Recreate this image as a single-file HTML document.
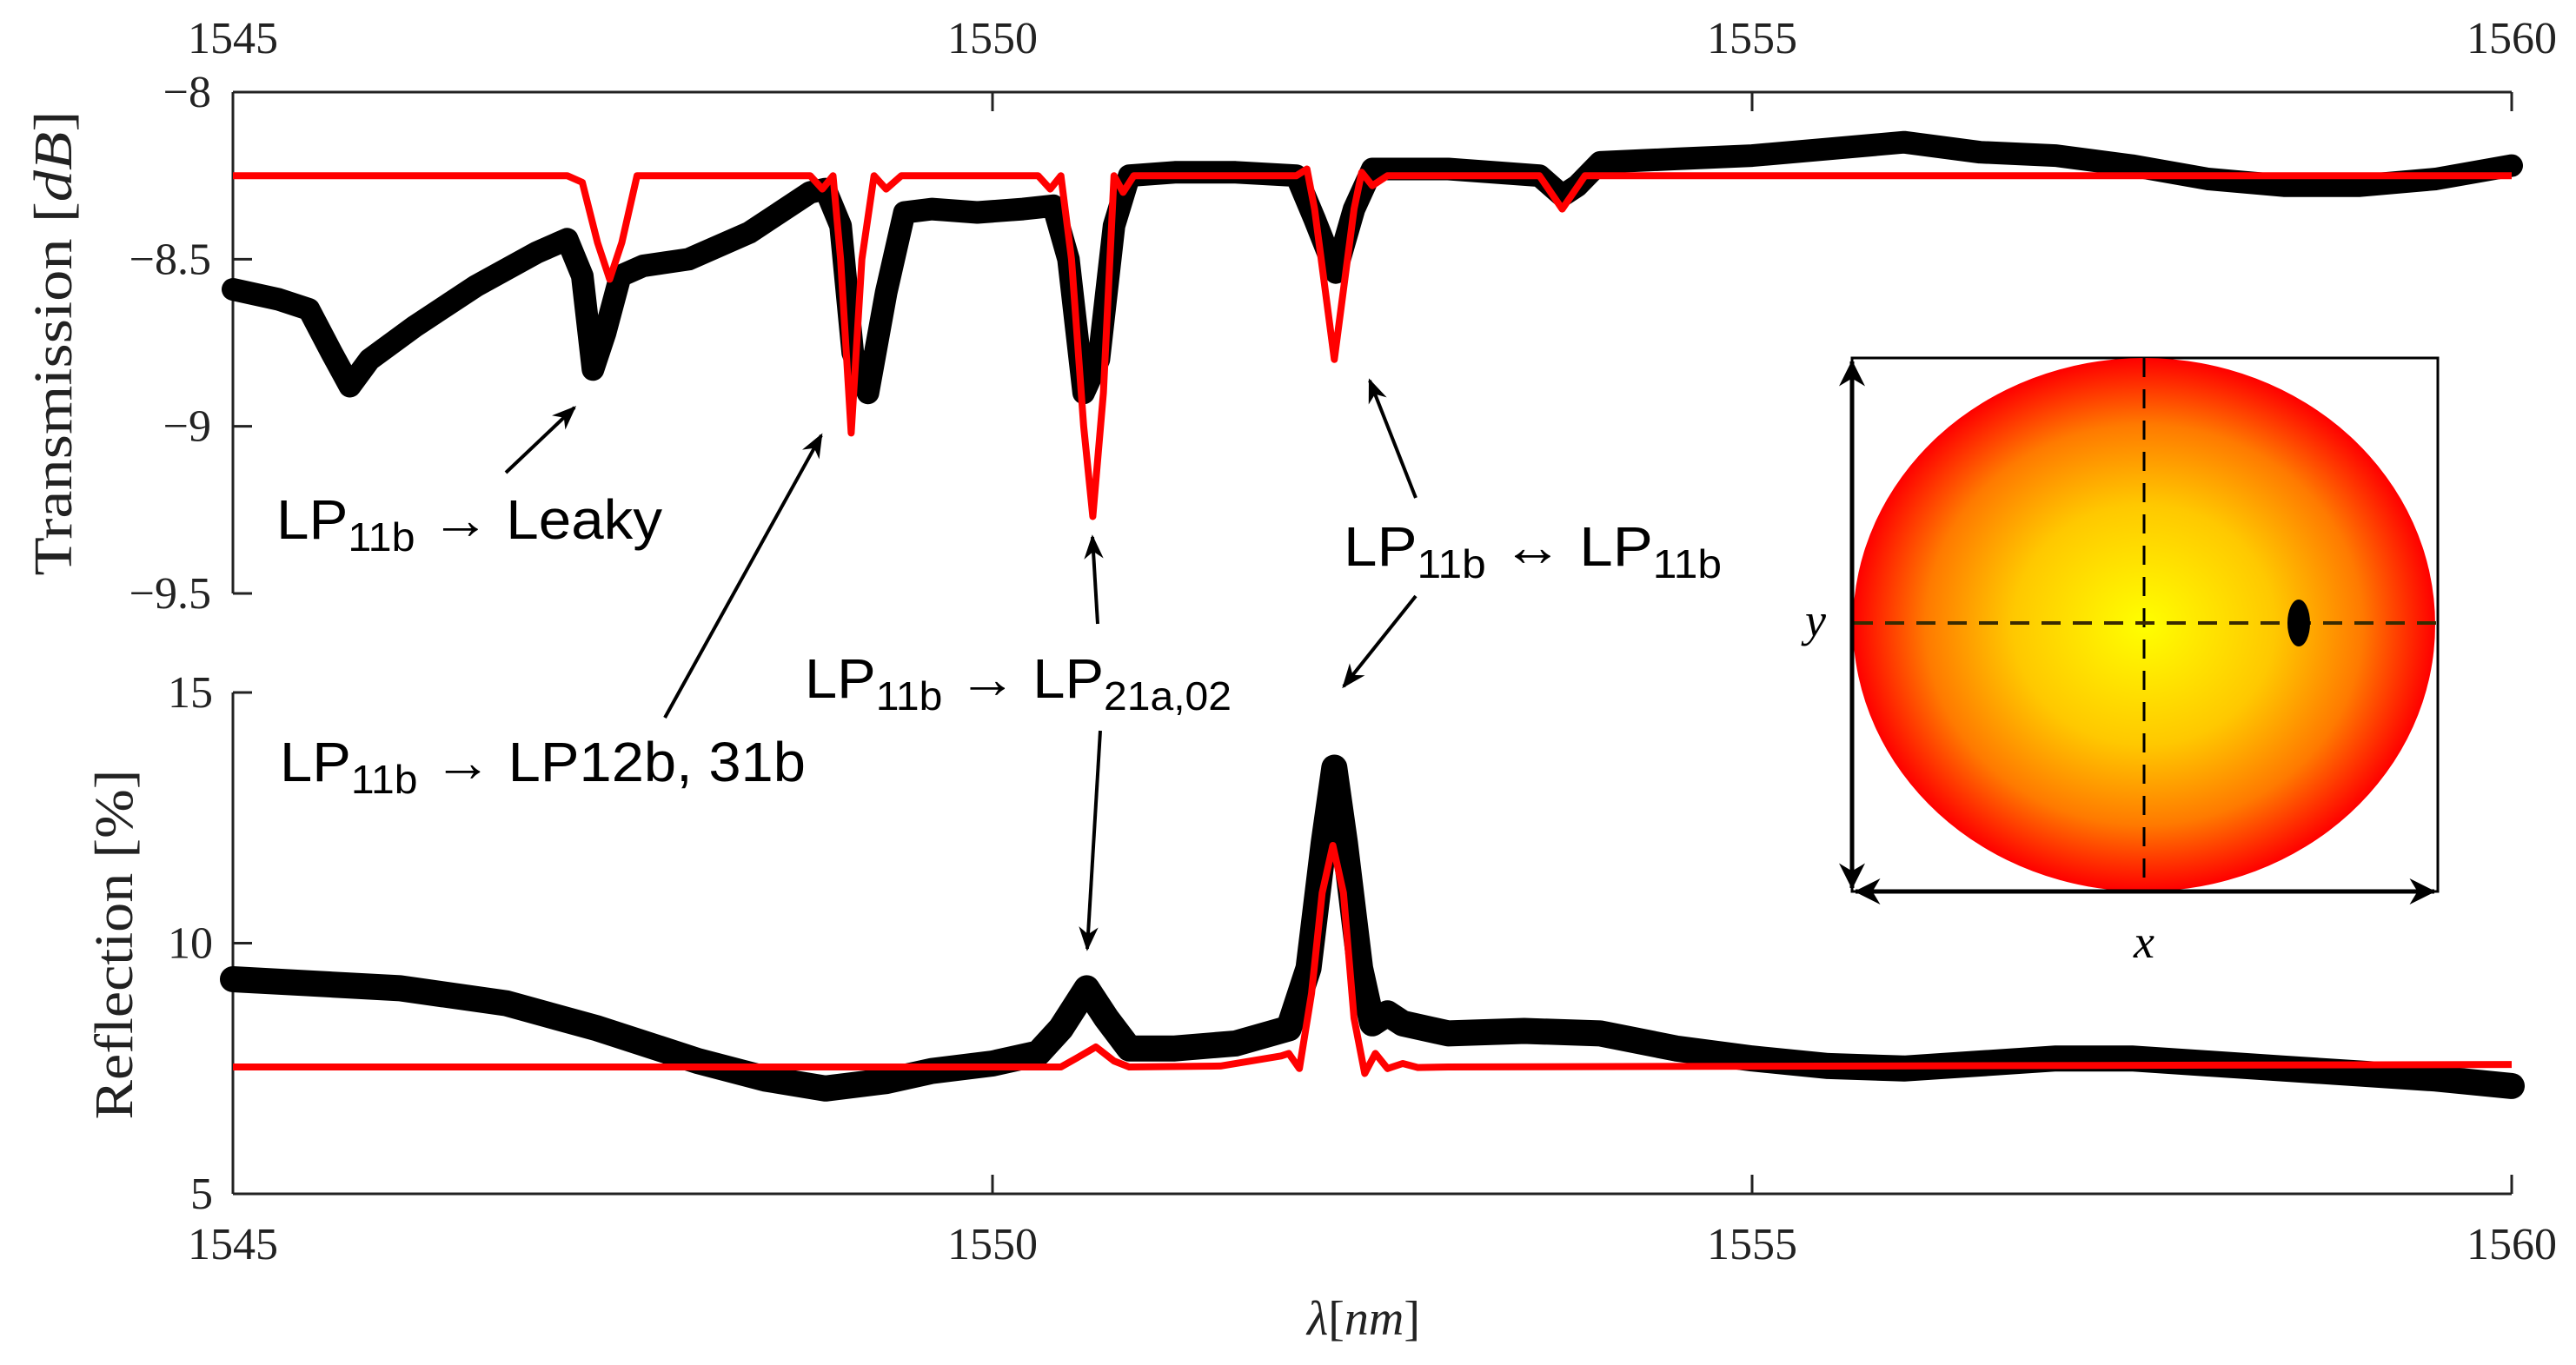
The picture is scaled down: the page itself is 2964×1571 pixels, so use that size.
<!DOCTYPE html>
<html><head><meta charset="utf-8"><style>
html,body{margin:0;padding:0;background:#fff;}
svg{display:block;}
.tick{font-family:"Liberation Serif",serif;font-size:52px;fill:#222;}
.ann{font-family:"Liberation Sans",sans-serif;font-size:64px;fill:#000;}
</style></head><body>
<svg id="chart" width="2964" height="1571" viewBox="0 0 2964 1571" xmlns="http://www.w3.org/2000/svg">
<defs>
<radialGradient id="fiberGrad" cx="0.5" cy="0.5" r="0.5">
<stop offset="0" stop-color="#ffff00"/><stop offset="0.45" stop-color="#ffc800"/><stop offset="0.75" stop-color="#ff7a00"/><stop offset="1" stop-color="#ff0000"/>
</radialGradient>
<marker id="ah" viewBox="0 0 10 10" refX="9" refY="5" markerWidth="7" markerHeight="7" orient="auto-start-reverse"><path d="M0,1 L10,5 L0,9 L3,5 z" fill="#000"/></marker>
<marker id="ahBig" viewBox="0 0 10 10" refX="9.5" refY="5" markerWidth="6" markerHeight="6" orient="auto-start-reverse"><path d="M0,0 L10,5 L0,10 L3,5 z" fill="#000"/></marker>
</defs>
<g id="axes"></g>
<g id="series"></g>
<g id="annotations">
<line x1="582" y1="544" x2="661" y2="469" stroke="#000" stroke-width="4" marker-end="url(#ah)"/>
<line x1="765" y1="826" x2="945" y2="501" stroke="#000" stroke-width="4" marker-end="url(#ah)"/>
<line x1="1263" y1="718" x2="1257" y2="618" stroke="#000" stroke-width="4" marker-end="url(#ah)"/>
<line x1="1266" y1="841" x2="1251" y2="1092" stroke="#000" stroke-width="4" marker-end="url(#ah)"/>
<line x1="1629" y1="573" x2="1576" y2="438" stroke="#000" stroke-width="4" marker-end="url(#ah)"/>
<line x1="1629" y1="686" x2="1546" y2="790" stroke="#000" stroke-width="4" marker-end="url(#ah)"/>
<text class="ann" x="318" y="620" textLength="444" lengthAdjust="spacingAndGlyphs">LP<tspan dy="14" font-size="46">11b</tspan><tspan dy="-14"> → Leaky</tspan></text>
<text class="ann" x="322" y="899" textLength="605" lengthAdjust="spacingAndGlyphs">LP<tspan dy="14" font-size="46">11b</tspan><tspan dy="-14"> → LP12b, 31b</tspan></text>
<text class="ann" x="926" y="803" textLength="491" lengthAdjust="spacingAndGlyphs">LP<tspan dy="14" font-size="46">11b</tspan><tspan dy="-14"> → LP</tspan><tspan dy="14" font-size="46">21a,02</tspan></text>
<text class="ann" x="1546" y="651" textLength="435" lengthAdjust="spacingAndGlyphs">LP<tspan dy="14" font-size="46">11b</tspan><tspan dy="-14"> ↔ LP</tspan><tspan dy="14" font-size="46">11b</tspan></text>
</g>
<g id="inset">
<rect x="2131" y="412" width="674" height="614" fill="none" stroke="#000" stroke-width="3"/>
<ellipse cx="2467" cy="719" rx="335" ry="307" fill="url(#fiberGrad)"/>
<line x1="2467" y1="412" x2="2467" y2="1026" stroke="#000" stroke-width="3" stroke-dasharray="22,14"/>
<line x1="2133" y1="717" x2="2803" y2="717" stroke="#3a2a00" stroke-width="4" stroke-dasharray="22,14"/>
<ellipse cx="2645" cy="717" rx="13" ry="27" fill="#000"/>
<line x1="2131" y1="416" x2="2131" y2="1022" stroke="#000" stroke-width="5" marker-start="url(#ahBig)" marker-end="url(#ahBig)"/>
<line x1="2135" y1="1026" x2="2801" y2="1026" stroke="#000" stroke-width="5" marker-start="url(#ahBig)" marker-end="url(#ahBig)"/>
<text x="2089" y="732" font-family="Liberation Serif,serif" font-style="italic" font-size="54" text-anchor="middle">y</text>
<text x="2467" y="1102" font-family="Liberation Serif,serif" font-style="italic" font-size="54" text-anchor="middle">x</text>
</g>
</svg>
<script>
// ---- data ----
const xTicks = [1545, 1550, 1555, 1560];
const transTicks = [-8, -8.5, -9, -9.5];
const transTickLabels = ["\u22128", "\u22128.5", "\u22129", "\u22129.5"];
const reflTicks = [15, 10, 5];
const reflTickLabels = ["15", "10", "5"];

const transMeasX = [1545.0,1545.3,1545.5,1545.65,1545.77,1545.9,1546.2,1546.6,1547.0,1547.2,1547.3,1547.37,1547.45,1547.55,1547.7,1548.0,1548.4,1548.8,1548.9,1549.0,1549.08,1549.18,1549.3,1549.42,1549.6,1549.9,1550.2,1550.4,1550.5,1550.6,1550.7,1550.8,1550.9,1551.2,1551.6,1552.0,1552.12,1552.26,1552.38,1552.5,1553.0,1553.6,1553.75,1553.85,1554.0,1554.5,1555.0,1555.5,1556.0,1556.5,1557.0,1557.5,1558.0,1558.5,1559.0,1559.5,1560.0];
const transMeasY = [-8.59,-8.62,-8.65,-8.78,-8.88,-8.8,-8.7,-8.58,-8.48,-8.44,-8.55,-8.83,-8.72,-8.55,-8.52,-8.5,-8.42,-8.3,-8.29,-8.4,-8.78,-8.9,-8.6,-8.36,-8.35,-8.36,-8.35,-8.34,-8.5,-8.9,-8.8,-8.4,-8.25,-8.24,-8.24,-8.25,-8.38,-8.54,-8.35,-8.23,-8.23,-8.25,-8.31,-8.28,-8.21,-8.2,-8.19,-8.17,-8.15,-8.18,-8.19,-8.22,-8.26,-8.28,-8.28,-8.26,-8.22];

const transSimX = [1545.0,1547.2,1547.3,1547.4,1547.48,1547.56,1547.66,1548.0,1548.8,1548.88,1548.95,1549.0,1549.07,1549.14,1549.22,1549.3,1549.4,1549.5,1550.3,1550.38,1550.45,1550.52,1550.6,1550.66,1550.73,1550.8,1550.86,1550.93,1551.0,1552.0,1552.07,1552.12,1552.25,1552.38,1552.43,1552.5,1552.6,1553.6,1553.75,1553.9,1560.0];
const transSimY = [-8.25,-8.25,-8.27,-8.45,-8.56,-8.45,-8.25,-8.25,-8.25,-8.29,-8.25,-8.5,-9.02,-8.5,-8.25,-8.29,-8.25,-8.25,-8.25,-8.29,-8.25,-8.5,-9.0,-9.27,-8.9,-8.25,-8.3,-8.25,-8.25,-8.25,-8.23,-8.35,-8.8,-8.35,-8.24,-8.28,-8.25,-8.25,-8.35,-8.25,-8.25];

const reflMeasX = [1545.0,1545.5,1546.1,1546.8,1547.4,1548.06,1548.5,1548.9,1549.3,1549.6,1550.0,1550.3,1550.45,1550.62,1550.75,1550.9,1551.2,1551.6,1551.95,1552.08,1552.18,1552.25,1552.32,1552.42,1552.5,1552.6,1552.7,1553.0,1553.5,1554.0,1554.5,1555.0,1555.5,1556.0,1556.5,1557.0,1557.5,1558.0,1558.5,1559.0,1559.5,1560.0];
const reflMeasY = [9.28,9.2,9.1,8.8,8.3,7.65,7.3,7.1,7.25,7.45,7.6,7.8,8.3,9.1,8.5,7.9,7.9,8.0,8.3,9.5,12.0,13.5,12.0,9.5,8.4,8.6,8.4,8.2,8.25,8.2,7.9,7.7,7.55,7.5,7.6,7.7,7.7,7.6,7.5,7.4,7.3,7.15];

const reflSimX = [1545.0,1550.45,1550.55,1550.68,1550.8,1550.9,1551.5,1551.9,1551.95,1552.02,1552.1,1552.17,1552.24,1552.31,1552.38,1552.45,1552.52,1552.6,1552.7,1552.8,1553.0,1560.0];
const reflSimY = [7.53,7.53,7.7,7.93,7.65,7.53,7.55,7.75,7.8,7.5,9.0,11.0,11.95,11.0,8.5,7.4,7.8,7.5,7.6,7.52,7.53,7.58];

// ---- axis functions ----
const X0 = 268, X1 = 2890;
function xs(v){ return X0 + (v - 1545) / 15 * (X1 - X0); }
const TT = 106, TB = 683;
function yt(v){ return TT + (-8 - v) / 1.5 * (TB - TT); }
const RT = 797, RB = 1374;
function yr(v){ return RB - (v - 5) / 10 * (RB - RT); }

const NS = "http://www.w3.org/2000/svg";
const axes = document.getElementById('axes');
const series = document.getElementById('series');
function mk(tag, attrs, parent){
  const e = document.createElementNS(NS, tag);
  for (const k in attrs) e.setAttribute(k, attrs[k]);
  parent.appendChild(e);
  return e;
}

let l;
l = mk('line', {x1:X0, y1:TT, x2:X1, y2:TT, stroke:'#222', 'stroke-width':3}, axes);


l = mk('line', {x1:X0, y1:TT, x2:X0, y2:TB, stroke:'#222', 'stroke-width':3}, axes);


l = mk('line', {x1:X0, y1:RB, x2:X1, y2:RB, stroke:'#222', 'stroke-width':3}, axes);


l = mk('line', {x1:X0, y1:RT, x2:X0, y2:RB, stroke:'#222', 'stroke-width':3}, axes);



xTicks.forEach(v => {
  const x = xs(v);
  let t = mk('line', {x1:x, y1:TT, x2:x, y2:TT+22, stroke:'#222', 'stroke-width':3}, axes);
  
  
  t = mk('line', {x1:x, y1:RB, x2:x, y2:RB-22, stroke:'#222', 'stroke-width':3}, axes);
  
  
  let tx = mk('text', {x:x, y:61, 'text-anchor':'middle', class:'tick'}, axes);
  tx.textContent = String(v);
  
  
  tx = mk('text', {x:x, y:1449, 'text-anchor':'middle', class:'tick'}, axes);
  tx.textContent = String(v);
  
  
});
transTicks.forEach((v, i) => {
  const y = yt(v);
  const t = mk('line', {x1:X0, y1:y, x2:X0+22, y2:y, stroke:'#222', 'stroke-width':3}, axes);
  
  
  const tx = mk('text', {x:243, y:y+17, 'text-anchor':'end', class:'tick'}, axes);
  tx.textContent = transTickLabels[i];
  
  
});
reflTicks.forEach((v, i) => {
  const y = yr(v);
  const t = mk('line', {x1:X0, y1:y, x2:X0+22, y2:y, stroke:'#222', 'stroke-width':3}, axes);
  
  
  const tx = mk('text', {x:245, y:y+17, 'text-anchor':'end', class:'tick'}, axes);
  tx.textContent = reflTickLabels[i];
  
  
});

let at = mk('text', {x:0, y:0, transform:'translate(82,395) rotate(-90)', 'text-anchor':'middle', 'font-family':'Liberation Serif,serif', 'font-size':'62', fill:'#222', textLength:'535', lengthAdjust:'spacingAndGlyphs'}, axes);
at.innerHTML = 'Transmission [<tspan font-style="italic">dB</tspan>]';


at = mk('text', {x:0, y:0, transform:'translate(152,1087) rotate(-90)', 'text-anchor':'middle', 'font-family':'Liberation Serif,serif', 'font-size':'62', fill:'#222', textLength:'403', lengthAdjust:'spacingAndGlyphs'}, axes);
at.textContent = 'Reflection [%]';


at = mk('text', {x:1569, y:1536, 'text-anchor':'middle', 'font-family':'Liberation Serif,serif', 'font-size':'56', fill:'#222'}, axes);
at.innerHTML = '<tspan font-style="italic">λ</tspan>[<tspan font-style="italic">nm</tspan>]';



function pathFrom(xa, ya, yf){
  return xa.map((v, i) => (i ? 'L' : 'M') + xs(v).toFixed(1) + ',' + yf(ya[i]).toFixed(1)).join(' ');
}
let p;
p = mk('path', {d:pathFrom(transMeasX, transMeasY, yt), fill:'none', stroke:'#000', 'stroke-width':26, 'stroke-linejoin':'round', 'stroke-linecap':'round'}, series);


p = mk('path', {d:pathFrom(reflMeasX, reflMeasY, yr), fill:'none', stroke:'#000', 'stroke-width':30, 'stroke-linejoin':'round', 'stroke-linecap':'round'}, series);


p = mk('path', {d:pathFrom(transSimX, transSimY, yt), fill:'none', stroke:'#ff0000', 'stroke-width':8, 'stroke-linejoin':'round'}, series);


p = mk('path', {d:pathFrom(reflSimX, reflSimY, yr), fill:'none', stroke:'#ff0000', 'stroke-width':8, 'stroke-linejoin':'round'}, series);


</script>
</body></html>
